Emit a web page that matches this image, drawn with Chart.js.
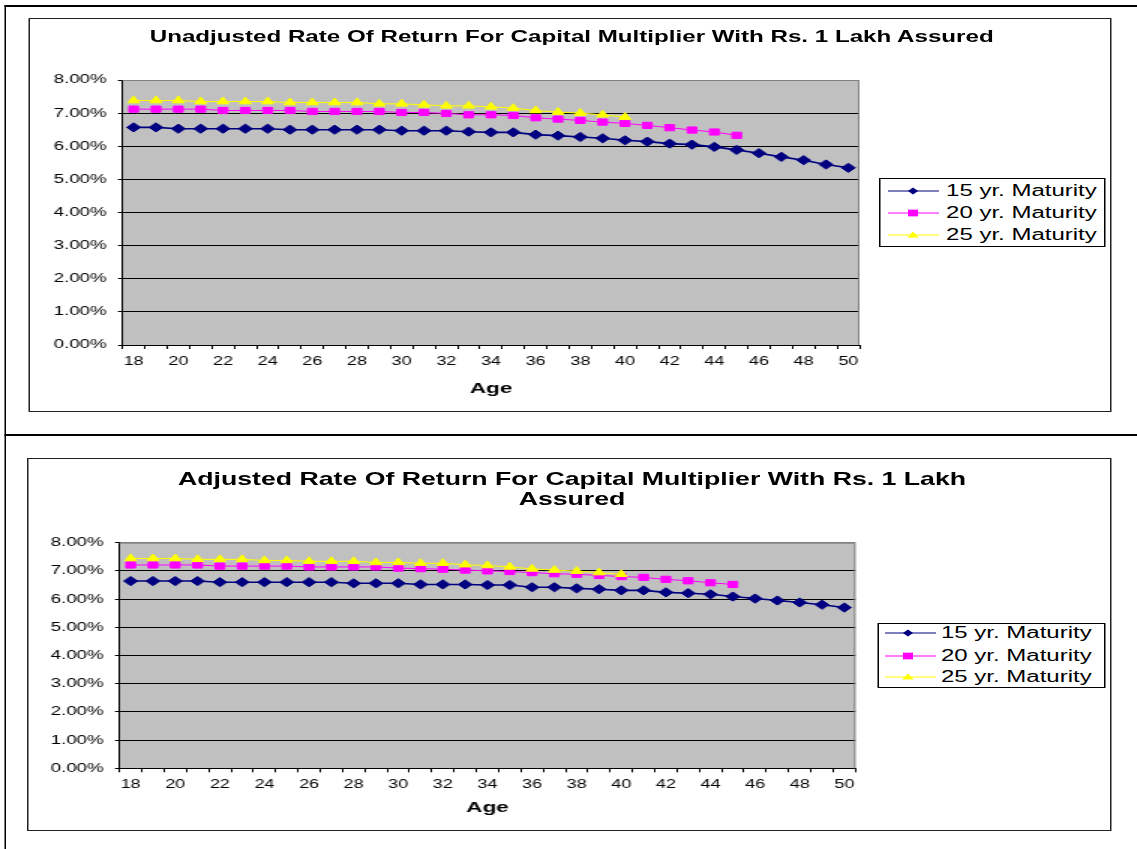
<!DOCTYPE html>
<html>
<head>
<meta charset="utf-8">
<title>Rate Of Return For Capital Multiplier</title>
<script src="https://cdn.jsdelivr.net/npm/chart.js@4.4.1/dist/chart.umd.min.js"></script>
<style>
  body { margin: 0; background: #fff; overflow: hidden; }
  /* the reference is stretched sideways, so the whole stage is drawn narrow and scaled in x */
  #stage { position: absolute; left: 0; top: 0; width: 758px; height: 849px;
           transform: scaleX(1.5); transform-origin: 0 0;
           font-family: 'Liberation Sans', Arial, sans-serif; color: #000; }
  .rule { position: absolute; background: #000; }
  .box { position: absolute; box-sizing: border-box; border: 1px solid #222; background: #fff; }
  .box canvas { position: absolute; left: 0; top: 0; }
  .title { position: absolute; left: 3px; right: 0; text-align: center; font-weight: bold; }
  .legend { position: absolute; box-sizing: border-box; border: 1px solid #000; background: #fff; }
  .legend .row { position: absolute; left: 0; right: 0; height: 20px; }
  .legend svg { position: absolute; top: 4px; }
  .legend span { position: absolute; top: 0; line-height: 20px; font-size: 16px; white-space: nowrap; }
</style>
</head>
<body>
<div id="stage">
  <div class="rule" style="left:2.67px;top:5px;width:1.4px;height:844px"></div>
  <div class="rule" style="left:2.67px;top:5px;width:755.3px;height:2px"></div>
  <div class="rule" style="left:2.67px;top:434px;width:755.3px;height:2px"></div>

  <!-- top chart -->
  <div class="box" style="left:18.67px;top:18px;width:722px;height:394px">
    <canvas id="chartTop" width="720" height="392"></canvas>
    <div class="title" style="top:8.4px;font-size:16.1px;line-height:19.2px">Unadjusted Rate Of Return For Capital Multiplier With Rs. 1 Lakh Assured</div>
  </div>
  <div class="legend" style="left:586px;top:178px;width:150.7px;height:69px">
    <div class="row" style="top:1.7px">
      <svg width="34" height="12" style="left:5px"><line x1="0" y1="6" x2="34" y2="6" stroke="#000080" stroke-width="1"/><polygon points="16.7,2.6 20.1,6 16.7,9.4 13.3,6" fill="#000080"/></svg>
      <span style="left:43.7px">15 yr. Maturity</span>
    </div>
    <div class="row" style="top:23.7px">
      <svg width="34" height="12" style="left:5px"><line x1="0" y1="6" x2="34" y2="6" stroke="#ff00ff" stroke-width="1"/><rect x="13.35" y="2.65" width="6.7" height="6.7" fill="#ff00ff"/></svg>
      <span style="left:43.7px">20 yr. Maturity</span>
    </div>
    <div class="row" style="top:46px">
      <svg width="34" height="12" style="left:5px"><line x1="0" y1="6" x2="34" y2="6" stroke="#ffff00" stroke-width="1"/><polygon points="16.7,2.5 20.5,8.5 12.9,8.5" fill="#ffff00"/></svg>
      <span style="left:43.7px">25 yr. Maturity</span>
    </div>
  </div>

  <!-- bottom chart -->
  <div class="box" style="left:18.33px;top:458px;width:723px;height:373px">
    <canvas id="chartBottom" width="721" height="371"></canvas>
    <div class="title" style="top:11.25px;font-size:17.8px;line-height:19.5px">Adjusted Rate Of Return For Capital Multiplier With Rs. 1 Lakh<br>Assured</div>
  </div>
  <div class="legend" style="left:584.5px;top:622.7px;width:152.4px;height:65px">
    <div class="row" style="top:-0.7px">
      <svg width="34" height="12" style="left:4.5px"><line x1="0" y1="6" x2="34" y2="6" stroke="#000080" stroke-width="1"/><polygon points="15.3,2.6 18.7,6 15.3,9.4 11.9,6" fill="#000080"/></svg>
      <span style="left:41.8px">15 yr. Maturity</span>
    </div>
    <div class="row" style="top:22px">
      <svg width="34" height="12" style="left:4.5px"><line x1="0" y1="6" x2="34" y2="6" stroke="#ff00ff" stroke-width="1"/><rect x="11.95" y="2.65" width="6.7" height="6.7" fill="#ff00ff"/></svg>
      <span style="left:41.8px">20 yr. Maturity</span>
    </div>
    <div class="row" style="top:43px">
      <svg width="34" height="12" style="left:4.5px"><line x1="0" y1="6" x2="34" y2="6" stroke="#ffff00" stroke-width="1"/><polygon points="15.3,2.5 19.1,8.5 11.5,8.5" fill="#ffff00"/></svg>
      <span style="left:41.8px">25 yr. Maturity</span>
    </div>
  </div>
</div>

<script>
/* ===== DATA ===== */
const ages = [18, 19, 20, 21, 22, 23, 24, 25, 26, 27, 28, 29, 30, 31, 32, 33, 34,
              35, 36, 37, 38, 39, 40, 41, 42, 43, 44, 45, 46, 47, 48, 49, 50];
const yTicks = [0, 1, 2, 3, 4, 5, 6, 7, 8];

// unadjusted rate of return (%)
const unadj15 = [6.57, 6.57, 6.53, 6.53, 6.53, 6.53, 6.53, 6.50, 6.50, 6.50, 6.50, 6.50, 6.47, 6.47, 6.47, 6.44, 6.42,
                 6.42, 6.35, 6.32, 6.28, 6.24, 6.18, 6.14, 6.08, 6.05, 5.98, 5.89, 5.79, 5.68, 5.58, 5.45, 5.35];
const unadj20 = [7.12, 7.12, 7.12, 7.12, 7.08, 7.08, 7.08, 7.08, 7.05, 7.05, 7.05, 7.05, 7.02, 7.02, 6.99, 6.95, 6.95,
                 6.93, 6.86, 6.82, 6.78, 6.73, 6.69, 6.63, 6.56, 6.49, 6.43, 6.33, null, null, null, null, null];
const unadj25 = [7.38, 7.38, 7.38, 7.35, 7.35, 7.35, 7.35, 7.32, 7.32, 7.32, 7.32, 7.28, 7.28, 7.25, 7.22, 7.22, 7.19,
                 7.15, 7.08, 7.03, 7.00, 6.95, 6.88, null, null, null, null, null, null, null, null, null, null];

// adjusted rate of return (%)
const adj15 = [6.64, 6.64, 6.64, 6.64, 6.60, 6.60, 6.60, 6.60, 6.60, 6.60, 6.56, 6.56, 6.56, 6.52, 6.52, 6.52, 6.50,
               6.50, 6.42, 6.42, 6.38, 6.35, 6.31, 6.31, 6.24, 6.21, 6.17, 6.09, 6.02, 5.95, 5.88, 5.80, 5.70];
const adj20 = [7.21, 7.21, 7.21, 7.21, 7.17, 7.17, 7.17, 7.17, 7.14, 7.14, 7.14, 7.14, 7.10, 7.08, 7.06, 7.03, 7.00,
               6.98, 6.94, 6.90, 6.88, 6.84, 6.80, 6.77, 6.70, 6.65, 6.58, 6.52, null, null, null, null, null];
const adj25 = [7.44, 7.44, 7.44, 7.41, 7.41, 7.41, 7.37, 7.37, 7.34, 7.34, 7.34, 7.30, 7.30, 7.27, 7.27, 7.22, 7.19,
               7.14, 7.07, 7.03, 6.99, 6.94, 6.88, null, null, null, null, null, null, null, null, null, null];

const seriesNames = ['15 yr. Maturity', '20 yr. Maturity', '25 yr. Maturity'];

/* ===== PLOT AREA (grey fill + grey top/right edge) ===== */
const plotArea = {
  id: 'plotArea',
  beforeDraw(chart) {
    const { ctx, chartArea: a } = chart;
    ctx.save();
    ctx.fillStyle = '#c0c0c0';
    ctx.fillRect(a.left, a.top, a.right - a.left, a.bottom - a.top);
    ctx.restore();
  },
  beforeDatasetsDraw(chart) {
    const { ctx, chartArea: a } = chart;
    ctx.save();
    ctx.strokeStyle = '#808080';
    ctx.lineWidth = 1;
    ctx.beginPath();
    ctx.moveTo(a.left, a.top + 0.5);
    ctx.lineTo(a.right - 0.5, a.top + 0.5);
    ctx.lineTo(a.right - 0.5, a.bottom);
    ctx.stroke();
    ctx.restore();
  }
};

const FONT = "'Liberation Sans', Arial, sans-serif";

function makeChart(id, s15, s20, s25, g) {
  return new Chart(document.getElementById(id), {
    type: 'line',
    data: {
      labels: ages,
      datasets: [
        { label: seriesNames[0], data: s15, order: 3, borderColor: '#000080', backgroundColor: '#000080',
          borderWidth: 1.6, pointStyle: 'rectRot', pointRadius: 4.6, pointBorderWidth: 1, pointBorderColor: '#000080' },
        { label: seriesNames[1], data: s20, order: 2, borderColor: '#ff00ff', backgroundColor: '#ff00ff',
          borderWidth: 1, pointStyle: 'rect', pointRadius: 4.4, pointBorderWidth: 1, pointBorderColor: '#ff00ff' },
        { label: seriesNames[2], data: s25, order: 1, borderColor: '#ffff00', backgroundColor: '#ffff00',
          borderWidth: 1, pointStyle: 'triangle', pointRadius: 4.5, pointBorderWidth: 1, pointBorderColor: '#ffff00' }
      ]
    },
    options: {
      responsive: false,
      animation: false,
      devicePixelRatio: 1,
      layout: { padding: { top: g.top, right: g.right, left: 0, bottom: 0 } },
      elements: { line: { tension: 0 } },
      plugins: { legend: { display: false }, title: { display: false }, tooltip: { enabled: false } },
      scales: {
        x: {
          type: 'category',
          offset: true,
          grid: { offset: true, drawOnChartArea: false, drawTicks: true, tickLength: 4, tickColor: '#000' },
          border: { color: '#000', width: 1 },
          ticks: {
            autoSkip: false, maxRotation: 0, padding: 5, color: '#000',
            font: { family: FONT, size: 12 },
            callback: function (v, i) { return i % 2 === 0 ? this.getLabelForValue(v) : ''; }
          },
          title: { display: true, text: 'Age', color: '#000',
                   font: { family: FONT, size: 15, weight: 'bold' }, padding: { top: 0, bottom: g.ageGap } },
          afterFit: s => { s.height = g.xHeight; }
        },
        y: {
          min: yTicks[0],
          max: yTicks[yTicks.length - 1],
          afterBuildTicks: s => { s.ticks = yTicks.map(v => ({ value: v })); },
          ticks: { padding: 7.5, color: '#000', font: { family: FONT, size: 12.5 },
                   callback: v => Number(v).toFixed(2) + '%' },
          grid: { color: c => (c.tick && c.tick.value === 8 ? '#808080' : '#000'), tickLength: 3, tickColor: '#000' },
          border: { color: '#000', width: 1 },
          afterFit: s => { s.width = g.yWidth; }
        }
      }
    },
    plugins: [plotArea]
  });
}

makeChart('chartTop', unadj15, unadj20, unadj25,
  { top: 61, right: 167, yWidth: 61.67, xHeight: 66, ageGap: 13 });
makeChart('chartBottom', adj15, adj20, adj25,
  { top: 83.7, right: 169.67, yWidth: 60.67, xHeight: 61.7, ageGap: 13 });
</script>
</body>
</html>
